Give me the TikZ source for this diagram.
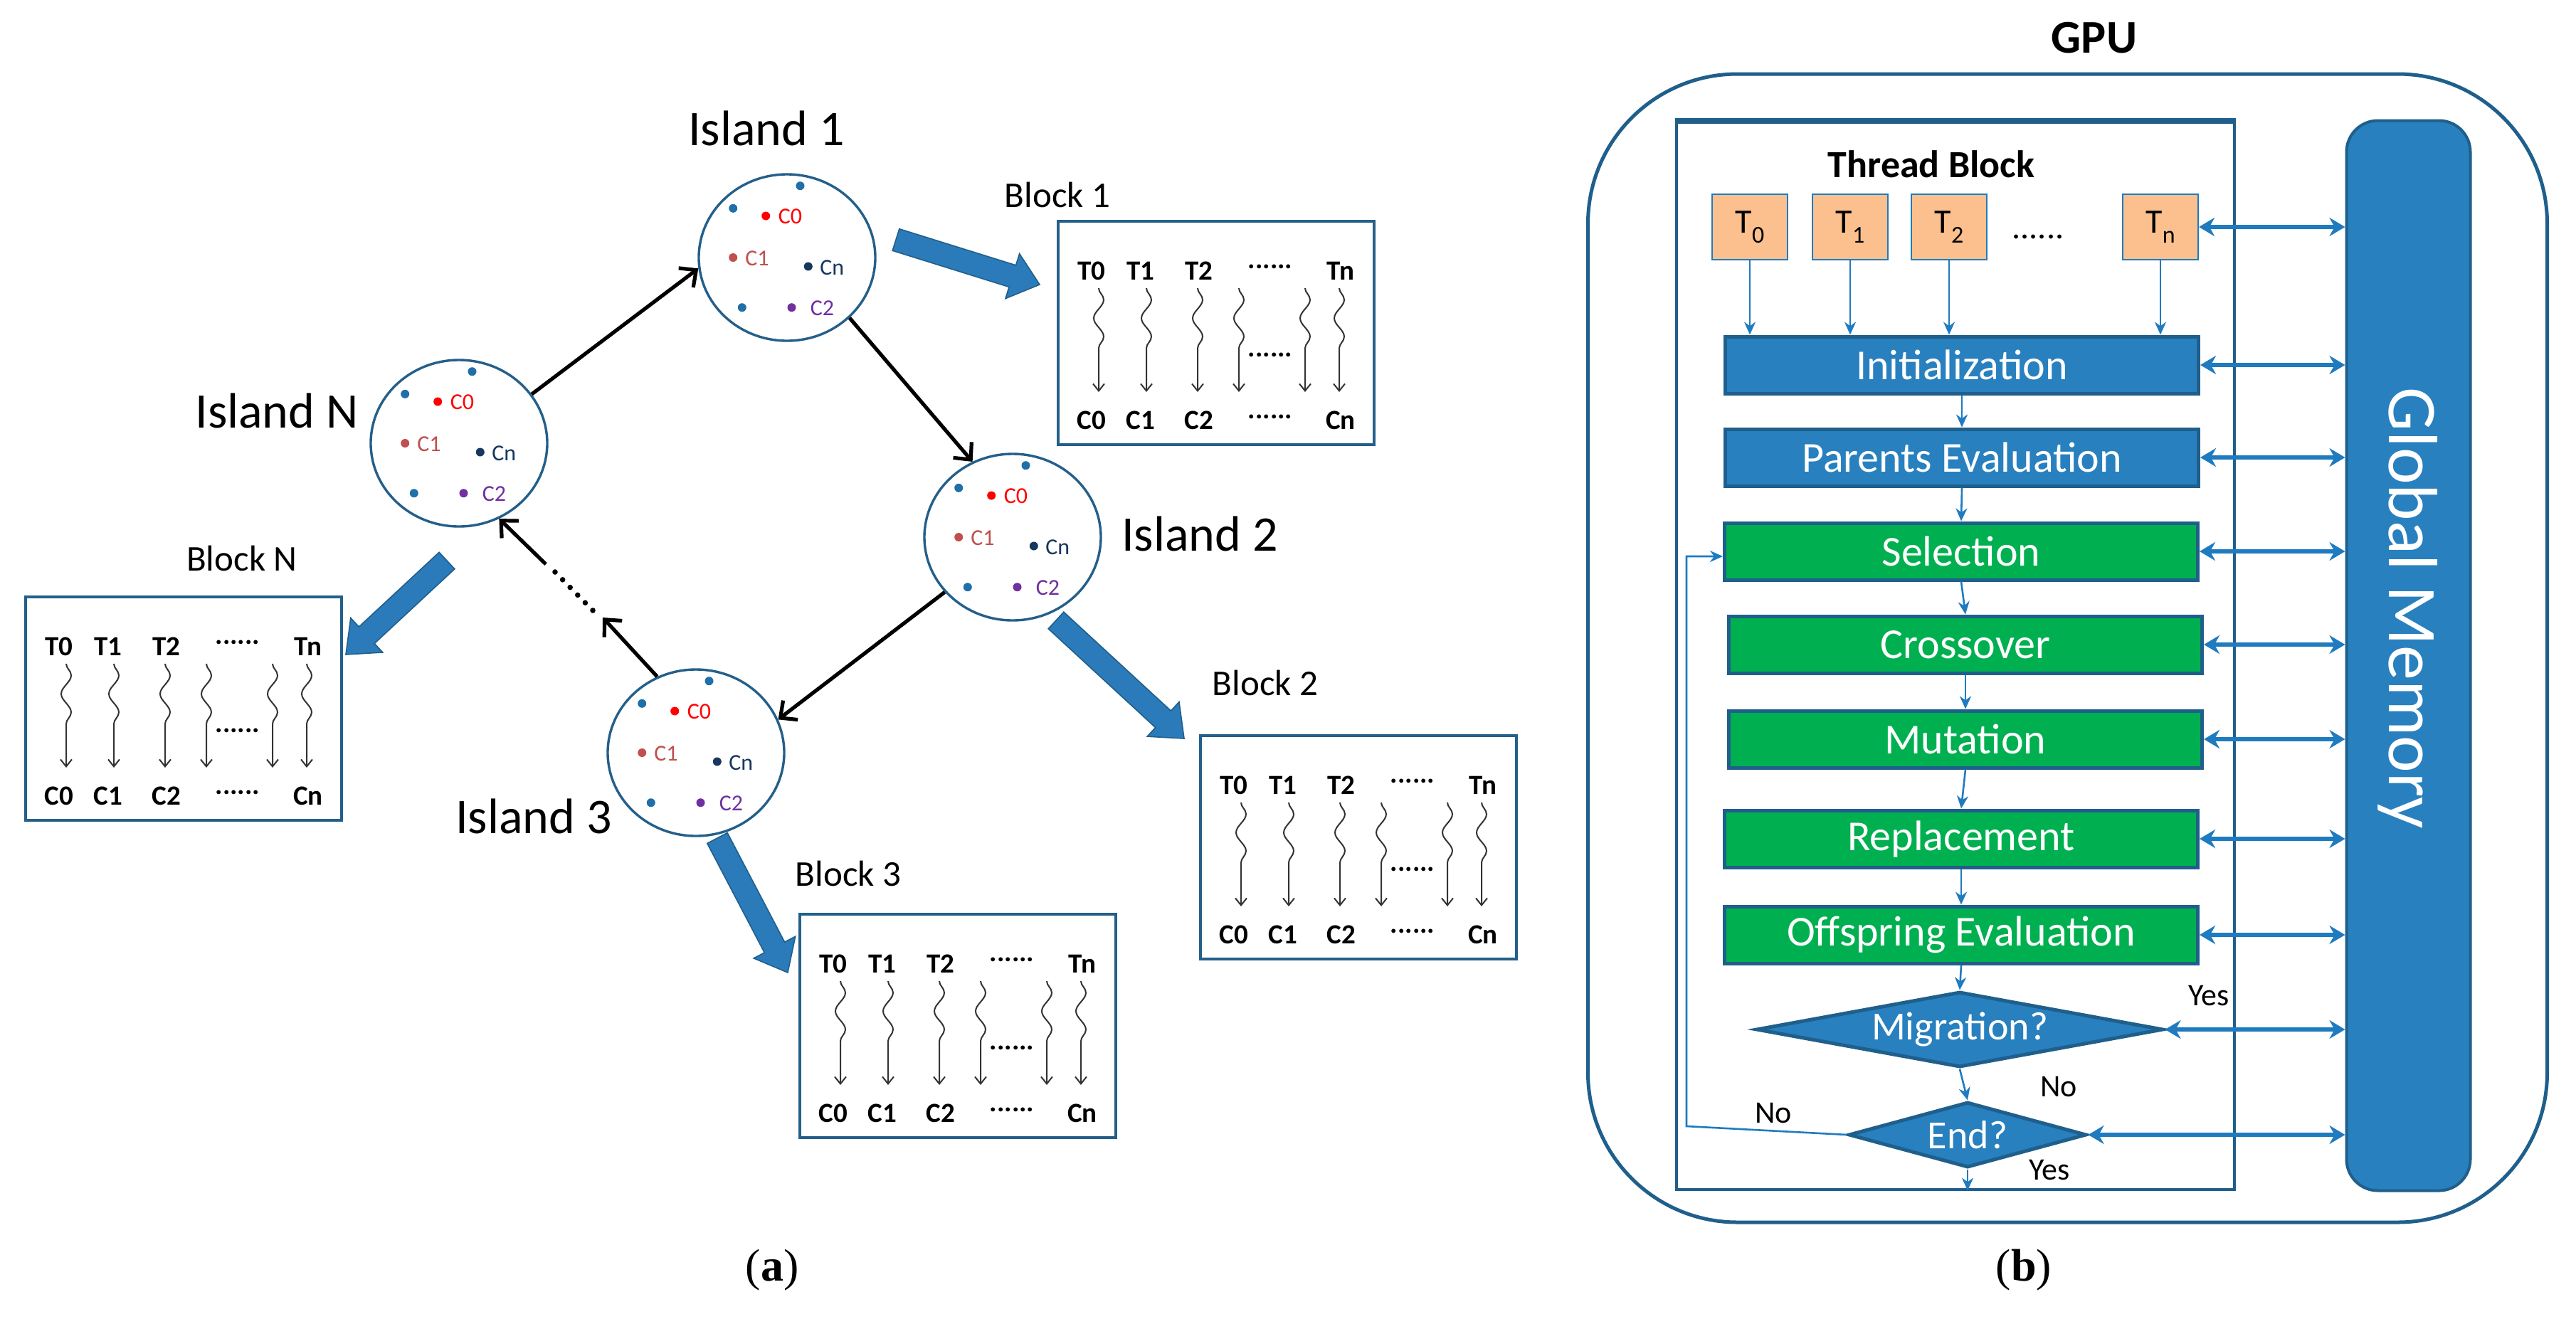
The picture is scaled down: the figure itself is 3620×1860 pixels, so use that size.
\documentclass[tikz,border=0pt]{standalone}
\usepackage{fontspec}
\setmainfont{Carlito}
\newfontfamily\capfont{Liberation Serif}
\usetikzlibrary{arrows.meta,shapes.geometric,calc,decorations.pathmorphing}

\definecolor{dkblue}{HTML}{1F5F8B}
\definecolor{circblue}{HTML}{245F8A}
\definecolor{dotblue}{HTML}{1F6FA8}
\definecolor{boxblue}{HTML}{2880BF}
\definecolor{boxgreen}{HTML}{00B050}
\definecolor{arrblue}{HTML}{1F7BC0}
\definecolor{bigarr}{HTML}{2B7BBA}
\definecolor{peach}{RGB}{251,192,141}
\definecolor{czero}{HTML}{FF0000}
\definecolor{cone}{HTML}{C0504D}
\definecolor{cnn}{HTML}{17375E}
\definecolor{ctwo}{HTML}{7030A0}

\newcommand{\fsz}[1]{\fontsize{#1}{#1}\selectfont}
\newcommand{\tsub}[2]{#1\raisebox{-0.3em}{\fsz{17}#2}}

\tikzset{
  island/.style={ellipse, draw=circblue, line width=1.7pt, minimum width=124pt, minimum height=117pt, inner sep=0pt},
  islab/.style={font=\fsz{35}, inner sep=0pt},
  blklab/.style={font=\fsz{25.5}, inner sep=0pt},
  clab/.style={font=\fsz{16}, inner sep=0pt},
  blkbox/.style={draw=circblue, line width=2pt, minimum width=222pt, minimum height=157pt, inner sep=0pt},
  blktxt/.style={font=\fsz{19.5}\bfseries, inner sep=0pt},
  wavy/.style={draw=black!80, line width=1pt, -{Straight Barb[length=5pt,width=8pt]}, decorate, decoration={snake, amplitude=3.5pt, segment length=26pt, post length=20pt}},
  blkarr/.style={line width=2.6pt, -{Straight Barb[length=9pt,width=17pt]}},
  bigarrst/.style={fill=bigarr, draw=dkblue, line width=0.8pt, line join=miter},
  tbox/.style={draw=arrblue, fill=peach, line width=1pt, minimum width=53pt, minimum height=46pt, inner sep=0pt, font=\fsz{24}},
  fbox/.style={draw=dkblue, line width=2.5pt, minimum width=332.5pt, minimum height=40pt, inner sep=0pt, text=white, font=\fsz{30}},
  bluebox/.style={fbox, fill=boxblue},
  greenbox/.style={fbox, fill=boxgreen},
  dia/.style={diamond, draw=dkblue, fill=boxblue, line width=2.5pt, inner sep=0pt, text=white, font=\fsz{28}},
  farr/.style={draw=arrblue, line width=1.3pt, -{Stealth[length=9pt,width=8pt]}},
  dbl/.style={draw=arrblue, line width=2.6pt, {Stealth[length=11pt,width=13pt]}-{Stealth[length=11pt,width=13pt]}},
  yn/.style={font=\fsz{22}, inner sep=0pt},
  capt/.style={font=\capfont\fsz{32}, inner sep=0pt}
}

\newcommand{\islandin}[1]{%
  \fill[dotblue] ($(#1)+(18.5,-100.8)$) circle (3pt);
  \fill[dotblue] ($(#1)+(-75.8,-69.2)$) circle (3pt);
  \fill[dotblue] ($(#1)+(-63.2,70.2)$) circle (3pt);
  \fill[czero] ($(#1)+(-29.8,-58.5)$) circle (3pt);
  \fill[cone] ($(#1)+(-75.8,0)$) circle (3pt);
  \fill[cnn] ($(#1)+(29.8,12.5)$) circle (3pt);
  \fill[ctwo] ($(#1)+(6.5,70.2)$) circle (3pt);
  \node[clab, text=czero, anchor=west] (#1c0) at ($(#1)+(-12.5,-57.5)$) {C0};
  \node[clab, text=cone, anchor=west] (#1c1) at ($(#1)+(-59,0.8)$) {C1};
  \node[clab, text=cnn, anchor=west] (#1cn) at ($(#1)+(46,14.2)$) {Cn};
  \node[clab, text=ctwo, anchor=west] (#1c2) at ($(#1)+(32.5,70.8)$) {C2};
}

\newcommand{\thrblock}[3]{%
  \begin{scope}[shift={(#2,#3)}]
    \node[blkbox] (#1) at (224,159) {};
    \foreach \xx/\lab/\k in {49/T0/a,118/T1/b,200/T2/c,399/Tn/d}
      \node[blktxt, anchor=base] (#1t\k) at (\xx,84) {\lab};
    \foreach \xx/\lab/\k in {49/C0/a,118/C1/b,200/C2/c,399/Cn/d}
      \node[blktxt, anchor=base] (#1c\k) at (\xx,294) {\lab};
    \node[blktxt, anchor=base] (#1dt) at (300,68) {......};
    \node[blktxt, anchor=base] (#1dm) at (300,192) {......};
    \node[blktxt, anchor=base] (#1db) at (300,279) {......};
    \foreach \xx in {59,126,198,256,349,397}
      \draw[wavy] (\xx,96) -- (\xx,242);
  \end{scope}%
}

\newcommand{\bigarrow}[3]{%
  \coordinate (#1b) at ($(#3)!20pt!(#2)$);
  \filldraw[bigarrst] ($(#2)!8pt!90:(#3)$) -- ($(#1b)!8pt!90:(#3)$) -- ($(#1b)!16.5pt!90:(#3)$) -- (#3)
    -- ($(#1b)!16.5pt!-90:(#3)$) -- ($(#1b)!8pt!-90:(#3)$) -- ($(#2)!8pt!-90:(#3)$) -- cycle;
}

\begin{document}
\begin{tikzpicture}[x=0.5pt,y=-0.5pt]
\useasboundingbox (0,0) rectangle (3620,1860);
\fill[white] (0,0) rectangle (3620,1860);

% ---------------- panel (a) ----------------
\node[island] (isl1) at (1106,362) {};
\node[island] (isl2) at (1423,755) {};
\node[island] (isl3) at (978,1058) {};
\node[island] (islN) at (645,623) {};
\islandin{isl1}
\islandin{isl2}
\islandin{isl3}
\islandin{islN}

\node[islab] (l1) at (1077,180) {Island 1};
\node[islab] (l2) at (1686,750) {Island 2};
\node[islab] (l3) at (750,1147) {Island 3};
\node[islab] (lN) at (389,577) {Island N};

\thrblock{blk1}{1485}{309}
\thrblock{blk2}{1685}{1032}
\thrblock{blk3}{1122}{1283}
\thrblock{blkN}{34}{837}

\node[blklab] (bl1) at (1486,274) {Block 1};
\node[blklab] (bl2) at (1778,960) {Block 2};
\node[blklab] (bl3) at (1192,1228) {Block 3};
\node[blklab] (blN) at (340,785) {Block N};

\coordinate (a1t) at (1259,337); \coordinate (a1h) at (1461,400);
\coordinate (a2t) at (1484,872); \coordinate (a2h) at (1664,1038);
\coordinate (a3t) at (1008,1178); \coordinate (a3h) at (1107,1367);
\coordinate (a4t) at (628,788);  \coordinate (a4h) at (486,920);
\bigarrow{ba1}{a1t}{a1h}
\bigarrow{ba2}{a2t}{a2h}
\bigarrow{ba3}{a3t}{a3h}
\bigarrow{ba4}{a4t}{a4h}

\draw[blkarr] (islN.34) -- (isl1.187);
\draw[blkarr] (isl1.-44) -- (isl2.118);
\draw[blkarr] (isl2.219) -- (isl3.22);
\coordinate (d1) at (847,868); \coordinate (d2) at (767,793);
\coordinate (e1) at (833,858); \coordinate (e2) at (780,804);
\draw[blkarr] (isl3.117) -- (d1);
\foreach \t in {0,0.2,0.4,0.6,0.8,1} \fill ($(e1)!\t!(e2)$) circle (1.9pt);
\draw[blkarr] (d2) -- (islN.-62);

\node[capt] (capa) at (1085,1785) {(\textbf{a})};

% ---------------- panel (b) ----------------
\node[draw=dkblue, line width=2.5pt, rounded corners=105pt, minimum width=674pt, minimum height=807pt, inner sep=0pt] (gpu) at (2905.5,911) {};
\node[font=\fsz{33}\bfseries, inner sep=0pt] (gput) at (2943,53) {GPU};
\node[draw=dkblue, line width=2pt, minimum width=392pt, minimum height=750pt, inner sep=0pt] (tb) at (2748,921.5) {};
\draw[dkblue, line width=3.5pt] (tb.north west) -- (tb.north east);
\node[font=\fsz{27}\bfseries, inner sep=0pt] (tbt) at (2714,231) {Thread Block};
\node[draw=dkblue, fill=boxblue, line width=2pt, rounded corners=22pt, minimum width=87pt, minimum height=752pt, inner sep=0pt] (gm) at (3384.5,921.5) {};
\node[rotate=-90, text=white, font=\fsz{49}, inner sep=0pt] (gmt) at (3384,855) {Global Memory};

\node[tbox] (t0) at (2459,319) {\tsub{T}{0}};
\node[tbox] (t1) at (2600,319) {\tsub{T}{1}};
\node[tbox] (t2) at (2739,319) {\tsub{T}{2}};
\node[tbox] (tn) at (3036,319) {\tsub{T}{n}};
\node[font=\fsz{24}, anchor=base, inner sep=0pt] (tdots) at (2864,335) {......};

\node[bluebox] (init) at (2757,513) {Initialization};
\node[bluebox] (par) at (2757,643) {Parents Evaluation};
\node[greenbox] (sel) at (2756,775) {Selection};
\node[greenbox] (cro) at (2762,906) {Crossover};
\node[greenbox] (mut) at (2762,1039) {Mutation};
\node[greenbox] (rep) at (2756,1179) {Replacement};
\node[greenbox] (off) at (2756,1314) {Offspring Evaluation};
\node[dia, minimum width=286pt, minimum height=53pt, aspect=5.3] (mig) at (2754,1447) {Migration?};
\node[dia, minimum width=167pt, minimum height=46pt, aspect=3.6] (endd) at (2765,1595) {End?};

\foreach \n in {t0,t1,t2,tn} \draw[farr] (\n.south) -- (\n.south |- init.north);
\draw[farr] (init.south) -- (par.north);
\draw[farr] (par.south) -- (sel.north);
\draw[farr] (sel.south) -- (cro.north);
\draw[farr] (cro.south) -- (mut.north);
\draw[farr] (mut.south) -- (rep.north);
\draw[farr] (rep.south) -- (off.north);
\draw[farr] (off.south) -- (mig.north);
\draw[farr] (mig.south) -- (endd.north);
\draw[farr] (endd.south) -- (endd.south |- tb.south);

\coordinate (lpa) at (2370,1583);
\coordinate (lpb) at (2370,782);
\draw[farr] (endd.west) -- (lpa) -- (lpb) -- (lpb -| sel.west);

\foreach \n in {tn,init,par,sel,cro,mut,rep,off,mig,endd}
  \draw[dbl] (\n.east) -- (\n.east -| gm.west);

\node[yn] (yes1) at (3104,1400) {Yes};
\node[yn] (no1) at (2893,1528) {No};
\node[yn] (no2) at (2492,1565) {No};
\node[yn] (yes2) at (2880,1645) {Yes};

\node[capt] (capb) at (2844,1785) {(\textbf{b})};
\end{tikzpicture}
\end{document}
